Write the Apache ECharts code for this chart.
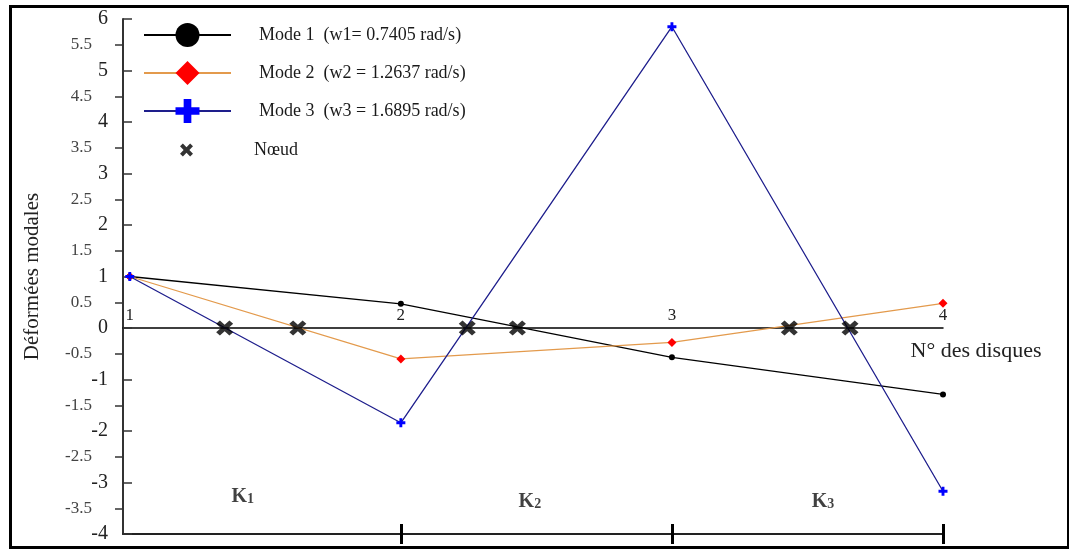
<!DOCTYPE html>
<html>
<head>
<meta charset="utf-8">
<script src="https://cdn.jsdelivr.net/npm/echarts@6/dist/echarts.min.js"></script>
<style>
html,body{margin:0;padding:0;background:#fff;}
#chart{width:1069px;height:549px;}
</style>
</head>
<body>
<div id="chart"></div>
<script>
// ---- data ----
var discs = [1, 2, 3, 4];
var mode1 = [1.0, 0.47, -0.57, -1.29];
var mode2 = [1.0, -0.60, -0.28, 0.48];
var mode3 = [1.0, -1.84, 5.85, -3.17];
var nodeX = [1.35, 1.62, 2.245, 2.43, 3.433, 3.657];
var nodeY = [0, 0, 0, 0, 0, 0];
var seriesNames = ['Mode 1  (w1= 0.7405 rad/s)', 'Mode 2  (w2 = 1.2637 rad/s)', 'Mode 3  (w3 = 1.6895 rad/s)'];
var nodeName = 'Nœud';
var springNames = ['1', '2', '3'];
var springX = [1.417, 2.476, 3.557];
var springY = [-3.24, -3.33, -3.33];
var yIntTicks = [-4, -3, -2, -1, 0, 1, 2, 3, 4, 5, 6];
var yHalfTicks = [-3.5, -2.5, -1.5, -0.5, 0.5, 1.5, 2.5, 3.5, 4.5, 5.5];
var xDiscTicks = [1, 2, 3, 4];
var xBottomTicks = [2, 3, 4];

var SERIF = '"Liberation Serif", "Times New Roman", serif';
var crossPath = 'path://M3.4,0 L6.6,0 L6.6,3.4 L10,3.4 L10,6.6 L6.6,6.6 L6.6,10 L3.4,10 L3.4,6.6 L0,6.6 L0,3.4 L3.4,3.4 Z';
var xPath = 'path://M0,2.2 L2.2,0 L5,2.8 L7.8,0 L10,2.2 L7.2,5 L10,7.8 L7.8,10 L5,7.2 L2.2,10 L0,7.8 L2.8,5 Z';

function pairs(xs, ys) { return xs.map(function (x, i) { return [x, ys[i]]; }); }

var chart = echarts.init(document.getElementById('chart'));
var xMin = 0.975, xMax = 4, yMin = -4, yMax = 6;
var gridTop = 19, gridHeight = 515;
// pixel offset that lifts the disc axis from the grid bottom onto y = 0
var zeroOffset = -gridHeight * (0 - yMin) / (yMax - yMin);
var common = { type: 'value', min: xMin, max: xMax, splitLine: { show: false } };

chart.setOption({
  animation: false,
  backgroundColor: '#fff',
  textStyle: { fontFamily: SERIF },
  graphic: [{
    type: 'rect', left: 8, top: 4, z: 100, silent: true,
    shape: { width: 1058, height: 541 },
    style: { fill: 'none', stroke: '#000', lineWidth: 3 }
  }],
  grid: { left: 123, top: gridTop, width: 820, height: gridHeight, containLabel: false },
  legend: [{
    data: seriesNames,
    orient: 'vertical', left: 143, top: 23, padding: 0,
    itemWidth: 87, itemHeight: 30, itemGap: 14,
    selectedMode: false,
    textStyle: { fontFamily: SERIF, fontSize: 18, color: '#1a1a1a', padding: [0, 0, 0, 23] }
  }, {
    data: [{ name: nodeName, icon: xPath }],
    orient: 'vertical', left: 180, top: 141, padding: 0,
    itemWidth: 87, itemHeight: 13,
    selectedMode: false,
    textStyle: { fontFamily: SERIF, fontSize: 18, color: '#1a1a1a', padding: [0, 0, 0, 19] }
  }],
  xAxis: [
    Object.assign({}, common, {
      position: 'bottom', offset: zeroOffset,
      name: 'N° des disques', nameLocation: 'end', nameGap: 33,
      nameTextStyle: { fontFamily: SERIF, fontSize: 22, color: '#222', align: 'center', verticalAlign: 'top', padding: [12, 0, 0, 0] },
      axisLine: { show: true, onZero: false, lineStyle: { color: '#000', width: 1.5 } },
      axisTick: { show: false },
      axisLabel: { show: true, inside: true, margin: 4, customValues: xDiscTicks, fontFamily: SERIF, fontSize: 17, color: '#222', verticalAlign: 'bottom' }
    }),
    Object.assign({}, common, {
      position: 'bottom',
      axisLine: { show: true, onZero: false, lineStyle: { color: '#222', width: 2 } },
      axisTick: { show: true, inside: false, length: 10, customValues: xBottomTicks, lineStyle: { color: '#000', width: 3 } },
      axisLabel: { show: false }
    }),
    Object.assign({}, common, {
      position: 'bottom',
      axisLine: { show: false, onZero: false },
      axisTick: { show: true, inside: true, length: 10, customValues: xBottomTicks, lineStyle: { color: '#000', width: 3 } },
      axisLabel: { show: false }
    })
  ],
  yAxis: [{
    type: 'value', position: 'left', min: yMin, max: yMax, interval: 0.5,
    splitLine: { show: false },
    name: 'Déformées modales', nameLocation: 'middle', nameGap: 80,
    nameTextStyle: { fontFamily: SERIF, fontSize: 21, color: '#222' },
    axisLine: { show: true, onZero: false, lineStyle: { color: '#333', width: 2 } },
    axisTick: { show: true, inside: false, length: 8, customValues: yHalfTicks, lineStyle: { color: '#333', width: 1.5 } },
    axisLabel: { show: true, margin: 31, customValues: yHalfTicks, fontFamily: SERIF, fontSize: 17, color: '#444' }
  }, {
    type: 'value', position: 'left', min: yMin, max: yMax, interval: 0.5,
    splitLine: { show: false },
    axisLine: { show: false, onZero: false },
    axisTick: { show: true, inside: true, length: 9, customValues: yIntTicks, lineStyle: { color: '#333', width: 1.5 } },
    axisLabel: { show: true, margin: 15, customValues: yIntTicks, fontFamily: SERIF, fontSize: 20, color: '#222' }
  }],
  series: [{
    name: seriesNames[0], type: 'line', xAxisIndex: 0, yAxisIndex: 0,
    data: pairs(discs, mode1),
    symbol: 'circle', symbolSize: 6, showAllSymbol: true,
    lineStyle: { color: '#000', width: 1.3 },
    itemStyle: { color: '#000' }, z: 3
  }, {
    name: seriesNames[1], type: 'line', xAxisIndex: 0, yAxisIndex: 0,
    data: pairs(discs, mode2),
    symbol: 'diamond', symbolSize: 9,
    lineStyle: { color: '#E39A4C', width: 1.3 },
    itemStyle: { color: '#FF0000' }, z: 4
  }, {
    name: seriesNames[2], type: 'line', xAxisIndex: 0, yAxisIndex: 0,
    data: pairs(discs, mode3),
    symbol: crossPath, symbolSize: 9,
    lineStyle: { color: '#1E1E8C', width: 1.3 },
    itemStyle: { color: '#0000FF' }, z: 5
  }, {
    name: nodeName, type: 'scatter', xAxisIndex: 0, yAxisIndex: 0,
    data: pairs(nodeX, nodeY),
    symbol: xPath, symbolSize: [17, 15], symbolKeepAspect: true,
    itemStyle: { color: '#000' }, z: 6
  }, {
    name: 'springs', type: 'scatter', xAxisIndex: 0, yAxisIndex: 0,
    data: pairs(springX, springY),
    symbolSize: 0, silent: true,
    label: {
      show: true, position: 'inside',
      formatter: function (p) { return '{k|K}{s|' + springNames[p.dataIndex] + '}'; },
      rich: {
        k: { fontFamily: SERIF, fontSize: 20, fontWeight: 'bold', color: '#111', lineHeight: 24, verticalAlign: 'bottom' },
        s: { fontFamily: SERIF, fontSize: 14, fontWeight: 'bold', color: '#111', lineHeight: 18, verticalAlign: 'bottom' }
      }
    }
  }]
});
</script>
</body>
</html>
